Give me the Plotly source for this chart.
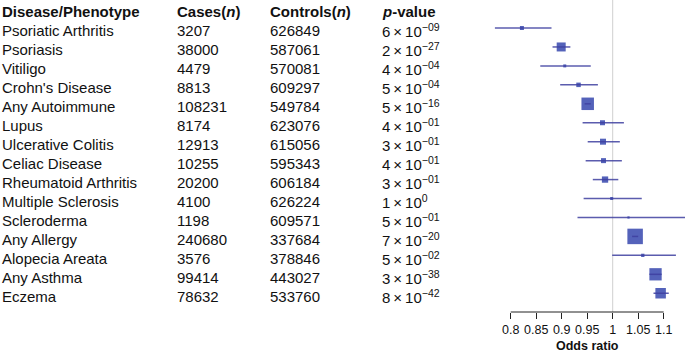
import plotly.graph_objects as go

# ---------------- data ----------------
diseases = ["Psoriatic Arthritis", "Psoriasis", "Vitiligo", "Crohn's Disease", "Any Autoimmune",
            "Lupus", "Ulcerative Colitis", "Celiac Disease", "Rheumatoid Arthritis",
            "Multiple Sclerosis", "Scleroderma", "Any Allergy", "Alopecia Areata",
            "Any Asthma", "Eczema"]
cases = [3207, 38000, 4479, 8813, 108231, 8174, 12913, 10255, 20200, 4100, 1198,
         240680, 3576, 99414, 78632]
controls = [626849, 587061, 570081, 609297, 549784, 623076, 615056, 595343, 606184,
            626224, 609571, 337684, 378846, 443027, 533760]
p_mant = [6, 2, 4, 5, 5, 4, 3, 4, 3, 1, 5, 7, 5, 3, 8]
p_exp = ["−09", "−27", "−04", "−04", "−16", "−01", "−01", "−01", "−01", "0", "−01",
         "−20", "−02", "−38", "−42"]
odds_ratio = [0.822, 0.899, 0.906, 0.933, 0.951, 0.980, 0.981, 0.982, 0.985, 0.998,
              1.031, 1.044, 1.059, 1.084, 1.094]
ci_low = [0.769, 0.882, 0.858, 0.897, 0.945, 0.941, 0.951, 0.947, 0.961, 0.943,
          0.931, 1.038, 0.999, 1.072, 1.080]
ci_high = [0.880, 0.917, 0.957, 0.971, 0.957, 1.022, 1.014, 1.018, 1.011, 1.057,
           1.160, 1.050, 1.124, 1.096, 1.110]
tick_vals = [0.8, 0.85, 0.9, 0.95, 1, 1.05, 1.1]
tick_text = ["0.8", "0.85", "0.9", "0.95", "1", "1.05", "1.1"]
headers = ["<b>Disease/Phenotype</b>", "<b>Cases(<i>n</i>)</b>",
           "<b>Controls(<i>n</i>)</b>", "<b><i>p</i>-value</b>"]

# ---------------- style ----------------
marker_sizes = [4, 9, 3, 4.5, 12.5, 5, 6, 5, 6.3, 3, 2.2, 15.5, 3.3, 12.3, 10.5]
W, H = 685, 353
PLOT_H = 312
rows = list(range(1, len(diseases) + 1))
FONT = "Liberation Sans, Arial, sans-serif"
TXT = "#111111"

fig = go.Figure()

# markers (boxes)
fig.add_trace(go.Scatter(
    x=odds_ratio, y=rows, mode="markers",
    marker=dict(symbol="square", size=marker_sizes, color="rgb(84,98,186)",
                opacity=1, line=dict(width=0)),
    hoverinfo="skip", showlegend=False))

# CI lines on top
lx, ly = [], []
for lo, hi, r in zip(ci_low, ci_high, rows):
    lx += [lo, hi, None]
    ly += [r, r, None]
fig.add_trace(go.Scatter(
    x=lx, y=ly, mode="lines", line=dict(color="rgba(62,64,160,0.85)", width=1.5),
    hoverinfo="skip", showlegend=False, cliponaxis=True))

x0_px = 490
fig.update_layout(
    width=W, height=H,
    margin=dict(l=0, r=0, t=0, b=H - PLOT_H, pad=0, autoexpand=False),
    paper_bgcolor="white", plot_bgcolor="white",
    xaxis=dict(domain=[x0_px / W, 1], range=[0.7594, 1.1418], tickmode="array",
               tickvals=tick_vals, ticktext=tick_text, ticks="outside", ticklen=6,
               tickangle=0, automargin=False,
               tickcolor="#222", tickwidth=1, showgrid=False, zeroline=False,
               showline=False, tickfont=dict(family=FONT, size=12.5, color=TXT)),
    yaxis=dict(range=[15.99, -0.479], visible=False, showgrid=False, zeroline=False,
               automargin=False),
    showlegend=False,
)

# reference line at OR = 1
fig.add_shape(type="line", x0=1, x1=1, y0=0, y1=1, xref="x", yref="paper",
              line=dict(color="#cfcfcf", width=1), layer="below")
# axis line from 0.8 to 1.1
fig.add_shape(type="line", x0=tick_vals[0], x1=tick_vals[-1], y0=0, y1=0,
              xref="x", yref="paper", line=dict(color="#222", width=1))

# axis title
fig.add_annotation(text="<b>Odds ratio</b>", x=(tick_vals[0] + tick_vals[-1]) / 2,
                   xref="x", y=-(346 - PLOT_H) / PLOT_H, yref="paper", yanchor="middle",
                   showarrow=False, font=dict(family=FONT, size=12.5, color=TXT))

# table
col_px = [0, 175, 268, 380]
dy = 0.15
for hx, h in zip(col_px, headers):
    fig.add_annotation(text=h, x=hx / W, xref="paper", y=0 + dy, yref="y",
                       xanchor="left", yanchor="middle", showarrow=False,
                       font=dict(family=FONT, size=15, color=TXT))
for i, r in enumerate(rows):
    cells = [diseases[i], str(cases[i]), str(controls[i]),
             f"{p_mant[i]}\u2009×\u200910<sup>{p_exp[i]}</sup>"]
    for cx, c in zip(col_px, cells):
        fig.add_annotation(text=c, x=cx / W, xref="paper", y=r + dy, yref="y",
                           xanchor="left", yanchor="middle", showarrow=False,
                           font=dict(family=FONT, size=15, color=TXT))

fig.write_html("out.html", config={"displayModeBar": False},
               post_script="document.body.style.margin='0';")
